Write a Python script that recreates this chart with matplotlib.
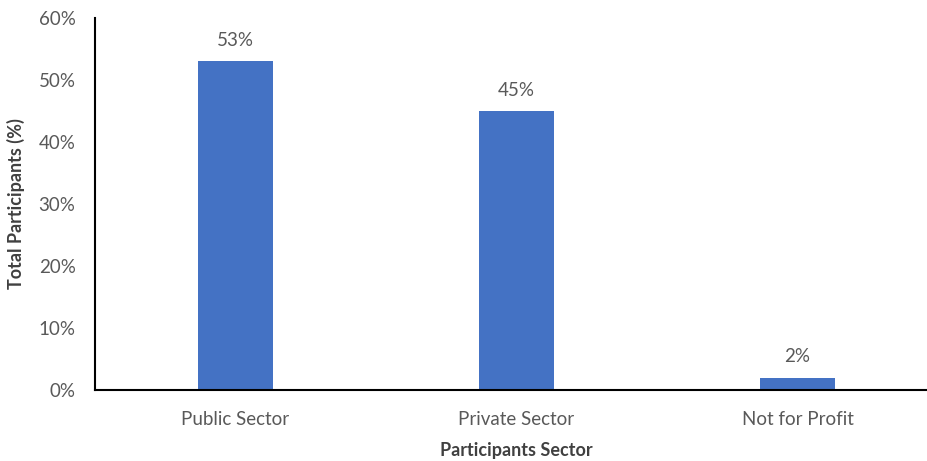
import matplotlib.pyplot as plt
from matplotlib.ticker import PercentFormatter

sectors = ["Public Sector", "Private Sector", "Not for Profit"]
share = [53, 45, 2]

plt.rcParams['font.family'] = ['Lato', 'DejaVu Sans']
grey = "#595959"

fig = plt.figure(figsize=(9.27, 4.61), dpi=100)
ax = fig.add_axes([95 / 927, 71 / 461, 843 / 927, 372 / 461])

bars = ax.bar(range(len(sectors)), share, width=0.27, color="#4472C4")
for b, v in zip(bars, share):
    ax.annotate(f"{v}%", (b.get_x() + b.get_width() / 2, v), xytext=(0, 9),
                textcoords="offset points", ha="center", va="bottom",
                fontsize=13.5, color=grey)

ax.set_xlim(-0.5, 2.5)
ax.set_ylim(0, 60)
ax.set_yticks(range(0, 61, 10))
ax.yaxis.set_major_formatter(PercentFormatter(decimals=0))
ax.set_xticks(range(len(sectors)))
ax.set_xticklabels(sectors)
ax.tick_params(length=0, labelsize=13.5, labelcolor=grey)
ax.tick_params(axis="y", pad=14)
ax.tick_params(axis="x", pad=15)

for s in ["top", "right"]:
    ax.spines[s].set_visible(False)
ax.spines["left"].set_linewidth(1.5)
ax.spines["bottom"].set_linewidth(1.5)

ax.set_xlabel("Participants Sector", fontsize=13, fontweight="bold",
              color="#404040", labelpad=10)
ax.set_ylabel("Total Participants (%)", fontsize=13, fontweight="bold",
              color="#404040", labelpad=10)

fig.savefig("out.png", dpi=100)
